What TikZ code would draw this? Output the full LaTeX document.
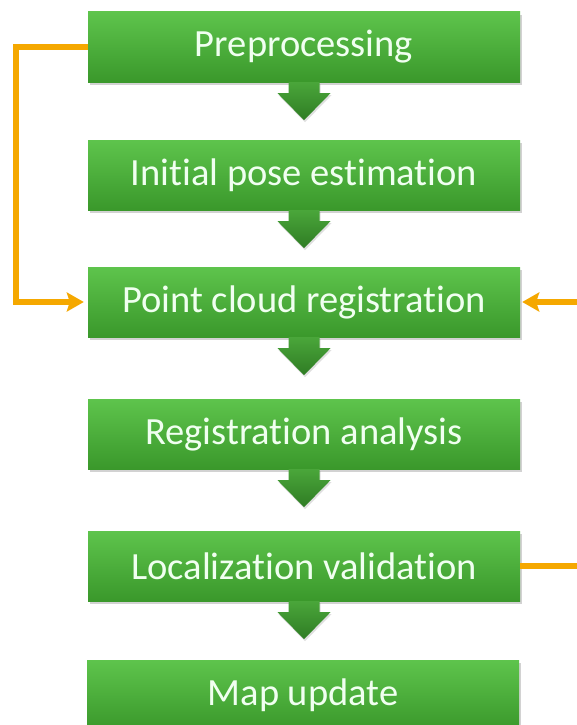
\documentclass[tikz,border=0pt]{standalone}
\usepackage{fontspec}
\setmainfont{Carlito}[RawFeature=-liga]
\usetikzlibrary{arrows.meta,shadows}

\definecolor{boxtop}{HTML}{5EC44C}
\definecolor{boxbot}{HTML}{3A982B}
\definecolor{arrtop}{HTML}{4AA63A}
\definecolor{arrbot}{HTML}{2F7C24}
\definecolor{looporange}{HTML}{F5A800}

\tikzset{
  stage/.style={rectangle, minimum width=432pt, minimum height=70pt,
    top color=boxtop, bottom color=boxbot, text=white!94!green,
    font=\fontsize{38.5}{44}\selectfont,
    drop shadow={shadow xshift=2pt, shadow yshift=-3pt, opacity=0.35}},
  downarrow/.style={top color=arrtop, bottom color=arrbot,
    drop shadow={shadow xshift=1pt, shadow yshift=-2pt, opacity=0.25}},
  feedback/.style={draw=looporange, line width=5.5pt,
    -{Stealth[length=17pt,width=19pt,inset=3pt]}}
}

\begin{document}
\begin{tikzpicture}[x=1pt,y=-1pt]
\useasboundingbox (0,0) rectangle (577,725);
\clip (0,0) rectangle (577,725);
\fill[white] (0,0) rectangle (577,725);

% pipeline stages
\node[stage] (pre)  at (304,47)  {Preprocessing};
\node[stage] (init) at (304,175) {Initial pose estimation};
\node[stage] (reg)  at (304,302) {Point cloud registration};
\node[stage] (ana)  at (304,434) {Registration analysis};
\node[stage] (val)  at (304,566) {Localization validation};
\node[stage] (map)  at (303,695) {Map update};

% block arrows between stages
\foreach \a in {pre,init,reg,ana,val}{
  \path[downarrow] ([xshift=-15.5pt]\a.south) -- ++(0,11) -- ++(-11,0)
    -- ++(26.5,27) -- ++(26.5,-27) -- ++(-11,0) -- ++(0,-11) -- cycle;
}

% feedback loops
\draw[feedback,shorten >=4pt] (pre.west) -- ++(-72,0) |- (reg.west);
\draw[feedback,shorten >=2pt] (val.east) -- ++(90,0) |- (reg.east);
\end{tikzpicture}
\end{document}
